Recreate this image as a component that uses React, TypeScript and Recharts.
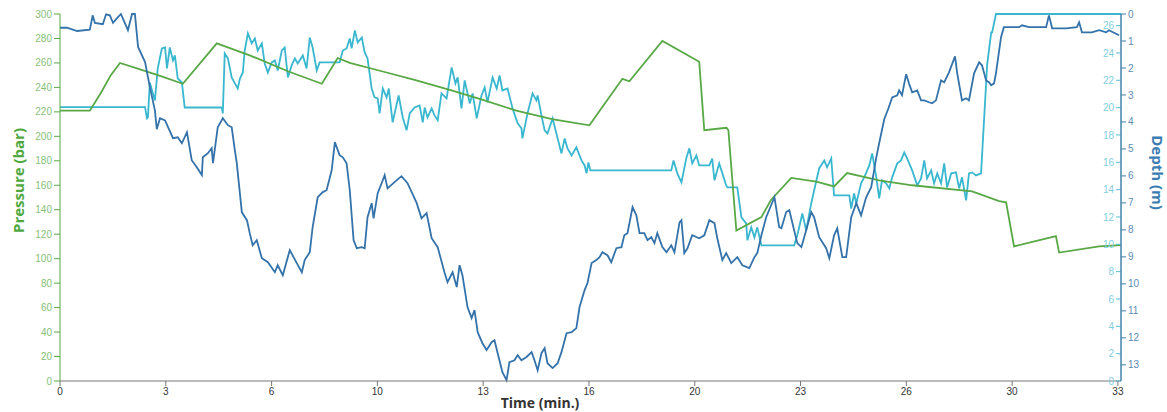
import React from 'react';
import { LineChart, Line, XAxis, YAxis } from 'recharts';

// time (min) , pressure (bar)
const pressureSeries: [number, number][] = [
  [0, 221], [0.94, 221], [1.3, 236], [1.6, 250], [1.89, 260], [2.5, 255], [3.2, 249], [3.87, 243],
  [4.94, 276], [6.0, 266], [7.2, 253], [8.25, 243], [8.75, 264], [9.13, 260], [10.17, 253],
  [11.2, 246], [12.28, 238], [13.3, 230], [14.38, 221], [15.5, 214], [16.68, 209], [17.72, 247],
  [17.94, 245], [18.98, 278], [20.14, 261], [20.3, 205], [21.0, 207], [21.06, 205], [21.31, 123],
  [22.1, 134], [22.4, 148], [23.04, 166], [23.83, 163], [24.39, 159], [24.8, 170], [25.81, 164],
  [26.85, 160], [28.74, 155], [29.59, 147], [29.81, 146], [30.06, 110], [31.38, 118.5],
  [31.48, 105], [32.74, 110], [33.43, 111],
];

// time (min) , depth (m)
const depthSeries: [number, number][] = [
  [0, 0.51], [0.22, 0.51], [0.54, 0.63], [0.94, 0.58], [1.03, 0.05], [1.1, 0.33], [1.35, 0.38],
  [1.45, 0.01], [1.57, 0.05], [1.67, 0.33], [1.79, 0.16], [1.92, 0.0], [1.98, 0.16], [2.14, 0.6],
  [2.27, 0.0], [2.36, 0.0], [2.46, 1.22], [2.68, 1.78], [2.83, 2.7], [2.99, 3.57], [3.05, 4.27],
  [3.15, 3.86], [3.31, 3.94], [3.56, 4.6], [3.71, 4.57], [3.84, 4.79], [4.0, 4.38], [4.15, 5.42],
  [4.31, 5.68], [4.47, 5.97], [4.5, 5.31], [4.66, 5.16], [4.78, 4.97], [4.82, 5.53], [4.97, 4.2],
  [5.13, 3.86], [5.29, 4.12], [5.41, 4.2], [5.51, 5.05], [5.57, 5.53], [5.73, 7.35], [5.89, 7.64],
  [5.98, 8.13], [6.07, 8.57], [6.2, 8.38], [6.36, 9.05], [6.55, 9.2], [6.77, 9.57], [6.86, 9.31],
  [7.02, 9.68], [7.24, 8.75], [7.46, 9.23], [7.62, 9.57], [7.71, 9.12], [7.87, 8.83], [7.96, 7.9],
  [8.12, 6.79], [8.28, 6.6], [8.4, 6.53], [8.56, 5.79], [8.66, 4.75], [8.81, 5.23], [8.91, 5.31],
  [9.03, 5.53], [9.13, 6.53], [9.25, 8.38], [9.35, 8.68], [9.51, 8.64], [9.6, 8.68], [9.69, 7.53],
  [9.82, 7.01], [9.88, 7.57], [10.01, 6.64], [10.17, 6.16], [10.23, 5.97], [10.32, 6.46],
  [10.54, 6.23], [10.76, 6.01], [10.95, 6.27], [11.24, 7.01], [11.39, 7.57], [11.55, 7.38],
  [11.71, 8.31], [11.9, 8.64], [12.12, 9.6], [12.21, 9.94], [12.37, 9.57], [12.5, 10.12],
  [12.59, 9.31], [12.68, 9.68], [12.84, 10.86], [12.97, 11.27], [13.06, 10.97], [13.16, 11.79],
  [13.31, 12.2], [13.44, 12.45], [13.6, 12.16], [13.69, 12.09], [13.79, 12.57], [13.94, 13.27],
  [14.07, 13.57], [14.16, 12.9], [14.32, 12.83], [14.42, 12.64], [14.54, 12.83], [14.7, 12.71],
  [14.86, 12.53], [14.95, 12.83], [15.05, 13.2], [15.17, 12.57], [15.27, 12.38], [15.36, 12.94],
  [15.52, 13.12], [15.68, 12.94], [15.8, 12.53], [15.96, 11.83], [16.12, 11.79], [16.27, 11.64],
  [16.37, 10.86], [16.53, 10.23], [16.62, 9.97], [16.75, 9.23], [16.9, 9.12], [17.0, 9.01],
  [17.09, 8.83], [17.25, 8.94], [17.37, 9.2], [17.53, 8.68], [17.69, 8.64], [17.78, 8.2],
  [17.88, 8.12], [18.04, 7.16], [18.16, 7.46], [18.26, 8.12], [18.41, 8.12], [18.51, 8.38],
  [18.63, 8.27], [18.73, 8.49], [18.82, 8.12], [18.98, 8.64], [19.11, 8.83], [19.26, 8.57],
  [19.36, 8.83], [19.52, 7.72], [19.58, 7.64], [19.67, 8.86], [19.77, 8.68], [19.92, 8.2],
  [20.14, 8.31], [20.3, 8.2], [20.46, 7.64], [20.62, 7.75], [20.71, 8.31], [20.87, 9.12],
  [20.99, 8.86], [21.15, 9.23], [21.34, 9.01], [21.5, 9.31], [21.72, 9.42], [21.88, 9.01],
  [21.97, 8.86], [22.1, 8.2], [22.25, 7.53], [22.51, 6.79], [22.66, 7.9], [22.73, 7.94],
  [22.88, 7.34], [22.98, 7.27], [23.13, 8.01], [23.23, 8.49], [23.36, 8.64], [23.51, 8.01],
  [23.67, 7.34], [23.76, 7.53], [23.92, 8.27], [24.14, 8.68], [24.24, 9.05], [24.39, 8.2],
  [24.49, 7.94], [24.65, 9.01], [24.77, 9.01], [24.93, 7.53], [25.09, 7.01], [25.24, 7.46],
  [25.4, 6.79], [25.56, 6.42], [25.72, 5.31], [25.81, 4.79], [25.97, 3.9], [26.1, 3.5],
  [26.22, 3.09], [26.38, 3.01], [26.44, 2.83], [26.53, 3.01], [26.66, 2.23], [26.75, 2.57],
  [26.85, 2.9], [27.01, 2.83], [27.13, 3.2], [27.23, 3.2], [27.38, 3.27], [27.48, 3.31],
  [27.6, 3.2], [27.76, 2.46], [27.86, 2.53], [28.01, 2.16], [28.2, 1.57], [28.27, 2.2],
  [28.42, 3.2], [28.55, 3.12], [28.64, 3.2], [28.8, 2.2], [28.96, 1.79], [29.05, 1.9],
  [29.18, 2.46], [29.27, 2.53], [29.34, 2.64], [29.43, 2.57], [29.49, 2.2], [29.65, 0.86],
  [29.74, 0.49], [30.22, 0.49], [30.31, 0.42], [30.53, 0.49], [31.07, 0.49], [31.16, 0.05],
  [31.26, 0.53], [31.7, 0.53], [32.04, 0.49], [32.11, 0.31], [32.2, 0.68], [32.51, 0.68],
  [32.74, 0.6], [32.96, 0.68], [33.05, 0.6], [33.37, 0.79],
];

// time (min) , temperature
const temperatureSeries: [number, number][] = [
  [0, 20.04], [2.68, 20.04], [2.74, 19.21], [2.77, 19.28], [2.83, 21.84], [2.99, 20.53],
  [3.08, 22.87], [3.21, 24.33], [3.31, 24.4], [3.37, 22.87], [3.46, 24.4], [3.56, 23.45],
  [3.62, 23.82], [3.71, 22.13], [3.84, 21.84], [3.93, 20.01], [5.1, 20.01], [5.13, 19.58],
  [5.19, 23.96], [5.29, 23.6], [5.41, 22.21], [5.51, 21.77], [5.6, 21.4], [5.67, 22.13],
  [5.76, 22.57], [5.82, 24.18], [5.92, 25.43], [6.04, 24.7], [6.14, 25.06], [6.23, 24.18],
  [6.36, 24.7], [6.45, 23.23], [6.55, 22.57], [6.67, 23.31], [6.77, 23.45], [6.86, 22.72],
  [6.99, 24.18], [7.08, 24.4], [7.18, 22.21], [7.3, 23.09], [7.4, 23.6], [7.49, 23.23],
  [7.65, 23.82], [7.77, 22.87], [7.87, 25.13], [7.96, 24.4], [8.09, 22.72], [8.18, 23.31],
  [8.81, 23.31], [8.91, 24.18], [9.03, 24.33], [9.13, 25.06], [9.19, 24.33], [9.29, 25.65],
  [9.38, 24.77], [9.51, 25.13], [9.6, 24.04], [9.69, 23.6], [9.82, 21.4], [9.91, 20.75],
  [10.01, 20.67], [10.07, 19.58], [10.17, 21.4], [10.29, 20.75], [10.36, 21.4], [10.48, 18.92],
  [10.67, 20.89], [10.8, 19.28], [10.92, 18.34], [11.02, 19.58], [11.17, 20.01], [11.33, 20.16],
  [11.43, 18.92], [11.49, 20.01], [11.58, 19.28], [11.71, 19.94], [11.8, 19.43], [11.9, 19.07],
  [12.02, 21.04], [12.18, 20.67], [12.34, 22.94], [12.46, 21.77], [12.53, 22.21], [12.65, 19.94],
  [12.75, 21.99], [12.91, 20.31], [13.0, 21.04], [13.13, 19.21], [13.28, 20.89], [13.38, 21.48],
  [13.47, 20.38], [13.63, 22.21], [13.76, 21.4], [13.85, 22.35], [13.94, 21.26], [14.1, 21.4],
  [14.26, 19.94], [14.42, 18.85], [14.54, 18.48], [14.57, 17.75], [14.73, 19.58], [14.89, 21.04],
  [15.01, 20.53], [15.05, 20.89], [15.17, 19.43], [15.27, 18.34], [15.36, 18.11], [15.52, 19.21],
  [15.68, 17.75], [15.8, 16.65], [15.9, 17.75], [15.99, 17.02], [16.12, 16.5], [16.27, 17.09],
  [16.43, 16.14], [16.53, 15.77], [16.59, 15.19], [16.65, 15.99], [16.71, 15.41], [19.26, 15.41],
  [19.33, 16.14], [19.45, 15.19], [19.58, 14.53], [19.74, 16.36], [19.83, 17.02], [19.92, 15.92],
  [20.05, 16.5], [20.14, 15.77], [20.46, 15.77], [20.55, 16.28], [20.62, 14.68], [20.77, 15.92],
  [20.87, 15.19], [20.99, 14.31], [21.03, 14.16], [21.34, 14.16], [21.47, 11.97], [21.62, 11.53],
  [21.66, 10.29], [21.78, 11.24], [21.88, 10.51], [21.97, 11.24], [22.1, 9.92], [23.13, 9.92],
  [23.23, 10.65], [23.39, 12.26], [23.51, 11.02], [23.67, 12.99], [23.76, 13.94], [23.92, 15.55],
  [24.08, 16.14], [24.17, 15.63], [24.3, 16.28], [24.39, 13.58], [24.87, 13.58], [24.93, 12.62],
  [25.02, 13.72], [25.09, 12.99], [25.24, 14.46], [25.34, 14.9], [25.5, 15.77], [25.59, 16.65],
  [25.72, 14.9], [25.81, 13.36], [25.9, 14.68], [26.03, 14.46], [26.13, 14.09], [26.22, 14.9],
  [26.38, 15.92], [26.5, 16.14], [26.6, 16.72], [26.69, 16.28], [26.85, 15.41], [27.01, 14.31],
  [27.13, 14.82], [27.23, 16.14], [27.32, 14.82], [27.45, 15.41], [27.54, 14.46], [27.64, 15.19],
  [27.76, 14.46], [27.86, 15.92], [27.95, 14.16], [28.08, 15.19], [28.23, 15.26], [28.33, 14.09],
  [28.42, 14.9], [28.55, 13.21], [28.64, 15.19], [28.74, 15.26], [28.86, 15.04], [29.02, 15.19],
  [29.18, 21.77], [29.21, 23.09], [29.34, 25.5], [29.37, 25.5], [29.49, 26.85], [33.43, 26.85],
];

const timeTicks = [0, 3.333, 6.667, 10, 13.333, 16.667, 20, 23.333, 26.667, 30, 33.333];
const pressureTicks = [0, 20, 40, 60, 80, 100, 120, 140, 160, 180, 200, 220, 240, 260, 280, 300];
const temperatureTicks = [0, 2, 4, 6, 8, 10, 12, 14, 16, 18, 20, 22, 24, 26];
const depthTicks = [0, 1, 2, 3, 4, 5, 6, 7, 8, 9, 10, 11, 12, 13];

const toRows = (pts: [number, number][]) => pts.map(([t, v]) => ({ t, v }));
const pressureRows = toRows(pressureSeries);
const depthRows = toRows(depthSeries);
const temperatureRows = toRows(temperatureSeries);

const GREEN = '#58a845';
const BLUE = '#3472aa';
const CYAN = '#38b7cf';
const TICK_FONT = 'Liberation Sans, Arial, sans-serif';
const TITLE_FONT = 'Open Sans, sans-serif';

const PressureLabel = (props: any) => {
  const vb = props.viewBox || { x: 0, y: 14, width: 60, height: 367 };
  const cx = vb.x + 18;
  const cy = vb.y + vb.height / 2 - 17;
  return (
    <text x={cx} y={cy} transform={`rotate(-90 ${cx} ${cy})`} textAnchor="middle" dominantBaseline="central"
      fill="#4fa83d" fontSize={15} fontWeight={700} fontFamily={TITLE_FONT}>Pressure (bar)</text>
  );
};

const DepthLabel = (props: any) => {
  const vb = props.viewBox || { x: 1121, y: 14, width: 46, height: 367 };
  const cx = vb.x + 37;
  const cy = vb.y + vb.height / 2 - 25;
  return (
    <text x={cx} y={cy} transform={`rotate(90 ${cx} ${cy})`} textAnchor="middle" dominantBaseline="central"
      fill="#3b7db2" fontSize={15} fontWeight={700} fontFamily={TITLE_FONT}>Depth (m)</text>
  );
};

const TimeLabel = (props: any) => {
  const vb = props.viewBox || { x: 60, y: 381, width: 1061, height: 31 };
  const cx = vb.x + 480;
  const cy = vb.y + 21;
  return (
    <text x={cx} y={cy} textAnchor="middle" dominantBaseline="central"
      fill="#333" fontSize={14} fontWeight={700} fontFamily={TITLE_FONT}>Time (min.)</text>
  );
};

export default function App() {
  return (
    <div style={{ position: 'absolute', left: 0, top: 0 }}>
      <LineChart width={1167} height={412} margin={{ top: 14, right: 0, bottom: 0, left: 0 }}>
        <XAxis
          dataKey="t"
          type="number"
          domain={[0, 33.43]}
          ticks={timeTicks}
          interval={0}
          allowDataOverflow
          tickFormatter={(v: number) => String(Math.floor(v + 1e-6))}
          stroke="#777"
          tickSize={5}
          height={31}
          tick={{ fill: '#333', fontSize: 10, fontFamily: TICK_FONT }}
          label={<TimeLabel />}
        />
        <YAxis
          yAxisId="p"
          orientation="left"
          width={60}
          domain={[0, 300]}
          ticks={pressureTicks}
          interval={0}
          stroke={GREEN}
          tickSize={6}
          tick={{ fill: '#86c177', fontSize: 10, fontFamily: TICK_FONT }}
          label={<PressureLabel />}
        />
        <YAxis
          yAxisId="temp"
          orientation="right"
          mirror
          width={1}
          domain={[0, 26.85]}
          ticks={temperatureTicks}
          interval={0}
          stroke="#4a8db0"
          tickSize={5}
          tickLine={{ stroke: '#5bbfd3' }}
          tick={{ fill: '#7fcfe0', fontSize: 10, fontFamily: TICK_FONT }}
        />
        <YAxis
          yAxisId="depth"
          orientation="right"
          width={46}
          reversed
          domain={[0, 13.6]}
          ticks={depthTicks}
          interval={0}
          stroke="#3f7fa8"
          tickSize={5}
          tick={{ fill: '#5b8db3', fontSize: 10, fontFamily: TICK_FONT }}
          label={<DepthLabel />}
        />
        <Line data={temperatureRows} dataKey="v" yAxisId="temp" type="linear" stroke={CYAN} strokeWidth={1.8}
          dot={false} activeDot={false} isAnimationActive={false} />
        <Line data={pressureRows} dataKey="v" yAxisId="p" type="linear" stroke={GREEN} strokeWidth={1.8}
          dot={false} activeDot={false} isAnimationActive={false} />
        <Line data={depthRows} dataKey="v" yAxisId="depth" type="linear" stroke={BLUE} strokeWidth={1.8}
          dot={false} activeDot={false} isAnimationActive={false} />
      </LineChart>
    </div>
  );
}
